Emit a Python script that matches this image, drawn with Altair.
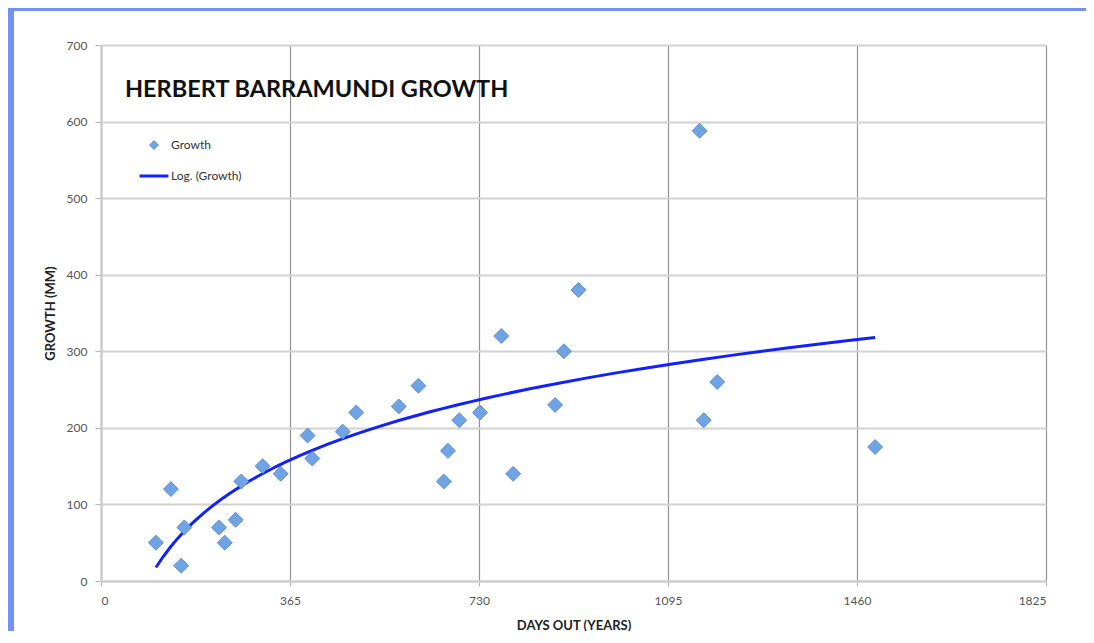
import altair as alt
import pandas as pd

# ---- data ----
days = [106, 135, 155, 161, 228, 239, 260, 271, 312, 347, 399, 408, 467, 493,
        575, 613, 662, 670, 692, 732, 773, 796, 877, 894, 922, 1156, 1164, 1190, 1495]
growth = [50, 120, 20, 70, 70, 50, 80, 130, 150, 140, 190, 160, 195, 220,
          228, 255, 130, 170, 210, 220, 320, 140, 230, 300, 380, 588, 210, 260, 175]
series_names = ["Growth", "Log. (Growth)"]
x_ticks = [0, 365, 730, 1095, 1460, 1825]
y_ticks = [0, 100, 200, 300, 400, 500, 600, 700]
chart_title = "HERBERT BARRAMUNDI GROWTH"
x_title = "DAYS OUT (YEARS)"
y_title = "GROWTH (MM)"

# ---- styles ----
marker_fill = "#6fa3e3"
marker_edge = "#4f84c6"
line_color = "#1020ff"
FONT = "Lato"

df = pd.DataFrame({"days": days, "growth": growth, "series": "Growth"})

x_enc = alt.X(
    "days:Q",
    scale=alt.Scale(domain=[0, 1825], nice=False, zero=False),
    axis=alt.Axis(
        values=x_ticks, title=x_title, format="d",
        gridColor={"condition": {"test": "datum.value === 0", "value": "#cccccc"}, "value": "#939393"},
        gridWidth={"condition": {"test": "datum.value === 0", "value": 2}, "value": 1.2},
    ),
)
y_enc = alt.Y(
    "growth:Q",
    scale=alt.Scale(domain=[0, 700], nice=False),
    axis=alt.Axis(values=y_ticks, title=y_title, format="d"),
)

legend = alt.Legend(title=None, orient="none", legendX=47, legendY=94)

points = alt.Chart(df).mark_point(filled=True, size=225, opacity=1).encode(
    x=x_enc,
    y=y_enc,
    shape=alt.Shape("series:N", scale=alt.Scale(domain=series_names, range=["diamond", "M-3.2,0L3.2,0"]), legend=legend),
    fill=alt.Fill("series:N", scale=alt.Scale(domain=series_names, range=[marker_fill, line_color]), legend=legend),
    stroke=alt.Stroke("series:N", scale=alt.Scale(domain=series_names, range=[marker_edge, line_color]), legend=legend),
    strokeWidth=alt.StrokeWidth("series:N", scale=alt.Scale(domain=series_names, range=[0.8, 3.0]), legend=legend),
)

trend = alt.Chart(df).transform_regression(
    "days", "growth", method="log"
).mark_line(color=line_color, strokeWidth=3).encode(x=x_enc, y=y_enc)

title_layer = alt.Chart(pd.DataFrame({"t": [chart_title]})).mark_text(
    align="left", baseline="alphabetic", font=FONT, fontSize=23.5, fontWeight="bold", color="#111111"
).encode(text="t:N", x=alt.value(24), y=alt.value(52))

frame = pd.DataFrame({"k": [0]})
frame_left = alt.Chart(frame).mark_rect(color="#7191f3").encode(
    x=alt.value(-93), x2=alt.value(-87), y=alt.value(-37), y2=alt.value(600))
frame_top = alt.Chart(frame).mark_rect(color="#7191f3").encode(
    x=alt.value(-93), x2=alt.value(990), y=alt.value(-37), y2=alt.value(-34))

chart = alt.layer(frame_left, frame_top, trend, points, title_layer).properties(
    width=945,
    height=536,
    autosize=alt.AutoSizeParams(type="none"),
    padding={"left": 93, "top": 37, "right": 40, "bottom": 50},
).configure_view(
    stroke=None
).configure_axis(
    labelFont=FONT, labelFontSize=12, labelColor="#555555",
    titleFont=FONT, titleFontSize=13, titleFontWeight="bold", titleColor="#222222",
    domainColor="#cccccc", domainWidth=2, tickColor="#b5b5b5",
).configure_axisX(
    tickSize=5, labelPadding=9, titlePadding=13,
).configure_axisY(
    gridColor="#d2d2d2", gridWidth=2, tickSize=6, labelPadding=8, titlePadding=9,
).configure_legend(
    labelFont=FONT, labelFontSize=12, labelColor="#333333",
    symbolSize=81, labelOffset=11, rowPadding=18, padding=0,
)

chart.save("out.html", embed_options={"renderer": "svg", "actions": False})
